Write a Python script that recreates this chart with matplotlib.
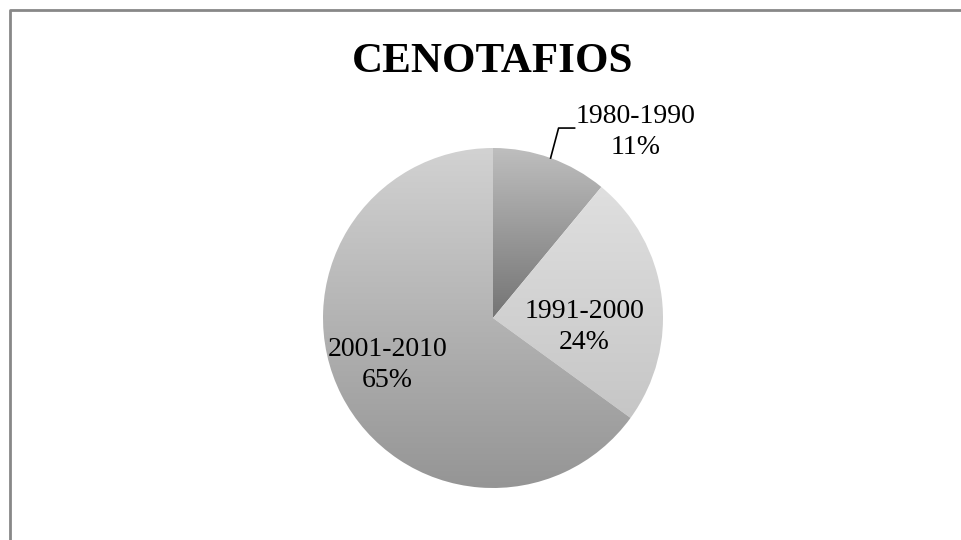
import matplotlib
matplotlib.use("Agg")
import matplotlib.pyplot as plt
import matplotlib.colors as mcolors
import numpy as np

# data
periods = ["1980-1990", "1991-2000", "2001-2010"]
shares = [11, 24, 65]
title = "CENOTAFIOS"

# gradient colours per slice (top, bottom)
grad_top = ["#bebebe", "#dfdfdf", "#d2d2d2"]
grad_bottom = ["#747474", "#c6c6c6", "#959595"]

# label placement: (angle in degrees, distance as fraction of radius)
label_pos = [(52.5, 1.38), (-5.6, 0.54), (204, 0.68)]

W, H = 961, 540
fig = plt.figure(figsize=(W / 100, H / 100), dpi=100)
ax = fig.add_axes([0, 0, 1, 1])

cx, cy, r = 493, H - 318, 170
wedges, _ = ax.pie(shares, startangle=90, counterclock=False, center=(cx, cy),
                   radius=r, frame=True,
                   wedgeprops=dict(facecolor="none", edgecolor="none"))

for i, w in enumerate(wedges):
    ext = w.get_path().get_extents()
    cmap = mcolors.LinearSegmentedColormap.from_list("g%d" % i, [grad_bottom[i], grad_top[i]])
    grad = np.linspace(0, 1, 256).reshape(-1, 1)
    im = ax.imshow(grad, cmap=cmap, origin="lower", aspect="auto",
                   extent=[ext.x0, ext.x1, ext.y0, ext.y1], interpolation="bilinear", zorder=1)
    im.set_clip_path(w)

font = dict(family="Liberation Serif", size=20, color="black")
for i, w in enumerate(wedges):
    ang, d = label_pos[i]
    tx = cx + d * r * np.cos(np.radians(ang))
    ty = cy + d * r * np.sin(np.radians(ang))
    ax.text(tx, ty, "%s\n%d%%" % (periods[i], shares[i]), ha="center", va="center",
            linespacing=1.35, zorder=3, **font)

# leader line for the small slice
mid = np.radians((wedges[0].theta1 + wedges[0].theta2) / 2)
x0, y0 = cx + r * np.cos(mid), cy + r * np.sin(mid)
ax.plot([x0, x0 + 8, x0 + 24], [y0, y0 + 30, y0 + 30], color="black", lw=1.2, zorder=3)

ax.text(cx, H - 62, title, ha="center", va="center", family="Liberation Serif",
        fontweight="bold", fontsize=31)

# chart frame (only left and top visible)
ax.plot([9.5, 9.5, W + 5], [-5, H - 9.5, H - 9.5], color="#888888", lw=2, zorder=4)

ax.set_xlim(0, W)
ax.set_ylim(0, H)
ax.set_aspect("auto")
ax.axis("off")

fig.savefig("out.png", dpi=100)
